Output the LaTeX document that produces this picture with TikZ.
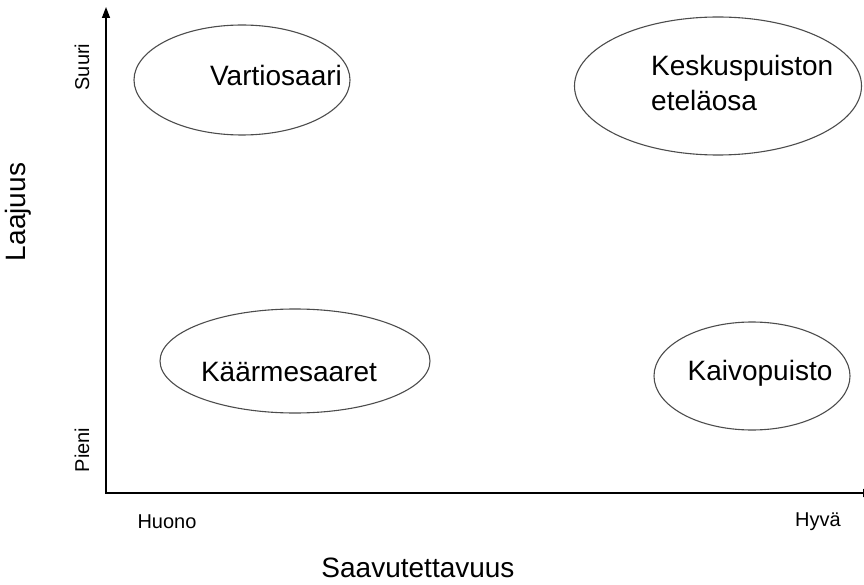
\documentclass[tikz,border=0pt]{standalone}
\usepackage{fontspec}
\setmainfont{Liberation Sans}
\usetikzlibrary{arrows.meta,shapes.geometric}

\begin{document}
\begin{tikzpicture}[x=1pt, y=-1pt,
  area/.style={draw=black!70, line width=1.1pt, ellipse, inner sep=0pt},
  big/.style={font=\fontsize{28}{35}\selectfont, inner sep=0pt},
  small/.style={font=\fontsize{20}{24}\selectfont, inner sep=0pt}]

\useasboundingbox (0,0) rectangle (864,585);

% axes
\coordinate (origin) at (106,493);
\coordinate (ytip) at (106,7);
\coordinate (xtip) at (874,493);
\draw[{Triangle[length=11pt,width=8pt]}-{Triangle[length=11pt,width=8pt]}, line width=1.4pt] (ytip) -- (origin) -- (xtip);

% areas
\node[area, minimum width=216pt, minimum height=110pt] (vartio) at (242,80) {};
\node[big] (vartio-txt) at (276,75) {Vartiosaari};

\node[area, minimum width=287pt, minimum height=138pt] (keskus) at (718,86) {};
\node[big, align=left, anchor=west] (keskus-txt) at (651,83) {Keskuspuiston\\eteläosa};

\node[area, minimum width=270pt, minimum height=104pt] (kaarme) at (295,361) {};
\node[big] (kaarme-txt) at (289,372) {Käärmesaaret};

\node[area, minimum width=196pt, minimum height=108pt] (kaivo) at (752,376) {};
\node[big] (kaivo-txt) at (760,373) {Kaivopuisto};

% axis labels
\node[small, rotate=90] (suuri) at (82,67) {Suuri};
\node[small, rotate=90] (pieni) at (82,450) {Pieni};
\node[small] (huono) at (167,522) {Huono};
\node[small] (hyva) at (818,522) {Hyvä};
\node[big] (saavu) at (418,568) {Saavutettavuus};
\node[big, rotate=90] (laaj) at (18,212) {Laajuus};

\end{tikzpicture}
\end{document}
